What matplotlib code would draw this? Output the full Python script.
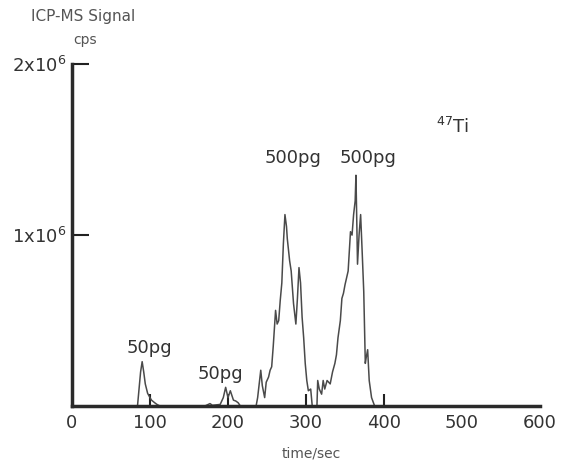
import matplotlib.pyplot as plt
import numpy as np

plt.rcParams['font.family'] = ['DejaVu Sans']

# signal trace (time in sec, signal in cps)
time = [0, 84, 86, 88, 90, 92, 94, 97, 100, 102, 106, 109, 113,
        170, 177, 180, 190, 194, 197, 200, 203, 207, 210, 213, 216,
        236, 238, 240, 242, 244, 247, 249, 252, 254, 256, 258, 261, 263,
        265, 267, 269, 271, 273, 275, 276, 279, 281, 284, 287, 289, 291,
        293, 295, 297, 299, 301, 303, 306, 308,
        314, 315, 317, 320, 322, 324, 327, 331, 334, 337, 339, 341, 344,
        346, 348, 350, 352, 354, 357, 359, 361, 363, 364, 365, 366, 368,
        370, 372, 374, 376, 377, 379, 381, 384, 388, 600]
signal = [0, 0, 0.1, 0.2, 0.26, 0.2, 0.13, 0.075, 0.05, 0.035, 0.02, 0.01, 0,
          0, 0.015, 0.005, 0.01, 0.05, 0.11, 0.05, 0.09, 0.035, 0.03, 0.02, 0,
          0, 0.05, 0.13, 0.21, 0.12, 0.05, 0.14, 0.17, 0.21, 0.23, 0.35, 0.56,
          0.48, 0.5, 0.62, 0.72, 0.95, 1.12, 1.05, 0.98, 0.85, 0.79, 0.6, 0.48,
          0.63, 0.81, 0.72, 0.52, 0.4, 0.25, 0.15, 0.09, 0.1, 0,
          0, 0.15, 0.1, 0.07, 0.15, 0.1, 0.15, 0.13, 0.2, 0.25, 0.3, 0.4, 0.5,
          0.63, 0.66, 0.71, 0.75, 0.79, 1.02, 1.0, 1.12, 1.2, 1.35, 1.1, 0.83,
          1.0, 1.12, 0.9, 0.67, 0.25, 0.28, 0.33, 0.15, 0.05, 0, 0]
signal = [v * 1e6 for v in signal]

labels = ['50pg', '50pg', '500pg', '500pg']
label_x = [99, 190, 283, 379]
label_y = [0.34e6, 0.19e6, 1.45e6, 1.45e6]

fig = plt.figure(figsize=(5.62, 4.61), dpi=100)
ax = fig.add_axes([0.128, 0.119, 0.833, 0.742])

ax.plot(time, signal, color='#4a4a4a', lw=1.1)

ax.set_xlim(0, 600)
ax.set_ylim(0, 2e6)
ax.spines['top'].set_visible(False)
ax.spines['right'].set_visible(False)
for s in ['left', 'bottom']:
    ax.spines[s].set_linewidth(2.5)
    ax.spines[s].set_color('#2a2a2a')

ax.set_xticks(np.arange(0, 601, 100))
ax.set_xticks([100, 200, 300, 400], minor=True)
ax.xaxis.remove_overlapping_locs = False
ax.tick_params(axis='x', which='major', length=0, pad=6, labelsize=13, labelcolor='#333333')
ax.tick_params(axis='x', which='minor', direction='in', length=9, width=1.5, color='#222222')

ax.set_yticks([1e6, 2e6])
ax.set_yticklabels(['1x10$^6$', '2x10$^6$'])
ax.tick_params(axis='y', direction='in', length=12, width=1.5, color='#222222',
               pad=4, labelsize=13, labelcolor='#333333')

for t, x, y in zip(labels, label_x, label_y):
    ax.text(x, y, t, ha='center', va='center', fontsize=13, color='#333333')
ax.text(488, 1.63e6, '$^{47}$Ti', ha='center', va='center', fontsize=13, color='#333333')

fig.text(0.148, 0.965, 'ICP-MS Signal', ha='center', va='center', fontsize=11, color='#555555')
fig.text(0.151, 0.913, 'cps', ha='center', va='center', fontsize=10, color='#555555')
fig.text(0.553, 0.017, 'time/sec', ha='center', va='center', fontsize=10, color='#555555')

fig.savefig('out.png', dpi=100)
